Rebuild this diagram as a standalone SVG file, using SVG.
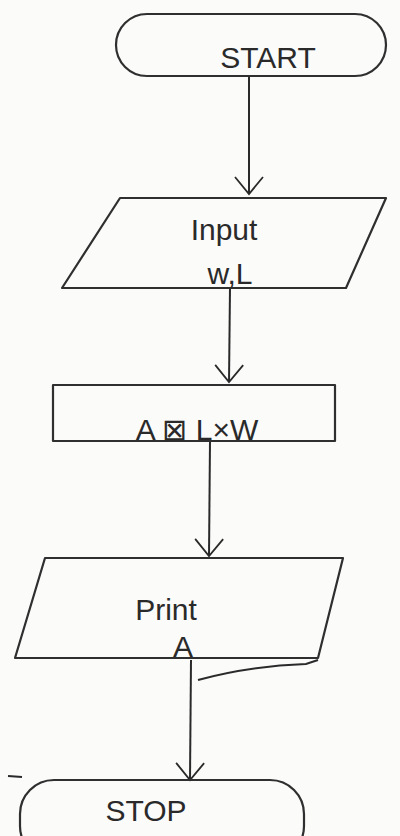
<svg xmlns="http://www.w3.org/2000/svg" width="400" height="836" viewBox="0 0 400 836">
<defs>
<marker id="arr" markerWidth="22" markerHeight="30" refX="18" refY="15" orient="auto" markerUnits="userSpaceOnUse">
<path d="M1,1 L18,15 L1,29" fill="none" stroke="#2a2a2a" stroke-width="1.8"/>
</marker>
</defs>
<style>
.shape{fill:none;stroke:#2f2f2f;stroke-width:2.2;stroke-linejoin:round}
.conn{fill:none;stroke:#2a2a2a;stroke-width:2}
.t{font-family:"Liberation Sans",Arial,sans-serif;fill:#2a2a2a;font-size:30px;text-anchor:middle;font-weight:300}
</style>
<rect width="400" height="836" fill="#fbfbfa"/>
<g id="connectors">
<path class="conn" d="M249,76 L249,194" marker-end="url(#arr)"/>
<path class="conn" d="M230,288 L229,382" marker-end="url(#arr)"/>
<path class="conn" d="M210,441 L209,556" marker-end="url(#arr)"/>
<path class="conn" d="M191,660 L190,780" marker-end="url(#arr)"/>
<path class="conn" d="M198,680 Q250,666 306,664 L318,660"/>
<path class="conn" d="M8,776 L22,777" stroke="#bbb"/>
</g>
<g id="start">
<rect class="shape" x="116" y="14" width="270" height="62" rx="31"/>
<text class="t" x="268" y="68">START</text>
</g>
<g id="input">
<polygon class="shape" points="120,198 386,198 346,288 62,288"/>
<text class="t" x="224" y="240" font-size="28">Input</text>
<text class="t" x="230" y="284" font-size="26">w,L</text>
</g>
<g id="process">
<polygon class="shape" points="53,441 53,385 335,385 335,441"/>
<text class="t" x="197" y="440" font-size="30">A ⊠ L×W</text>
</g>
<g id="print">
<polygon class="shape" points="45,558 343,558 318,658 15,658"/>
<text class="t" x="166" y="620" font-size="34">Print</text>
<text class="t" x="183" y="657" font-size="30">A</text>
</g>
<g id="stop">
<rect class="shape" x="20" y="780" width="284" height="80" rx="34"/>
<text class="t" x="146" y="821" font-size="28">STOP</text>
</g>
</svg>
